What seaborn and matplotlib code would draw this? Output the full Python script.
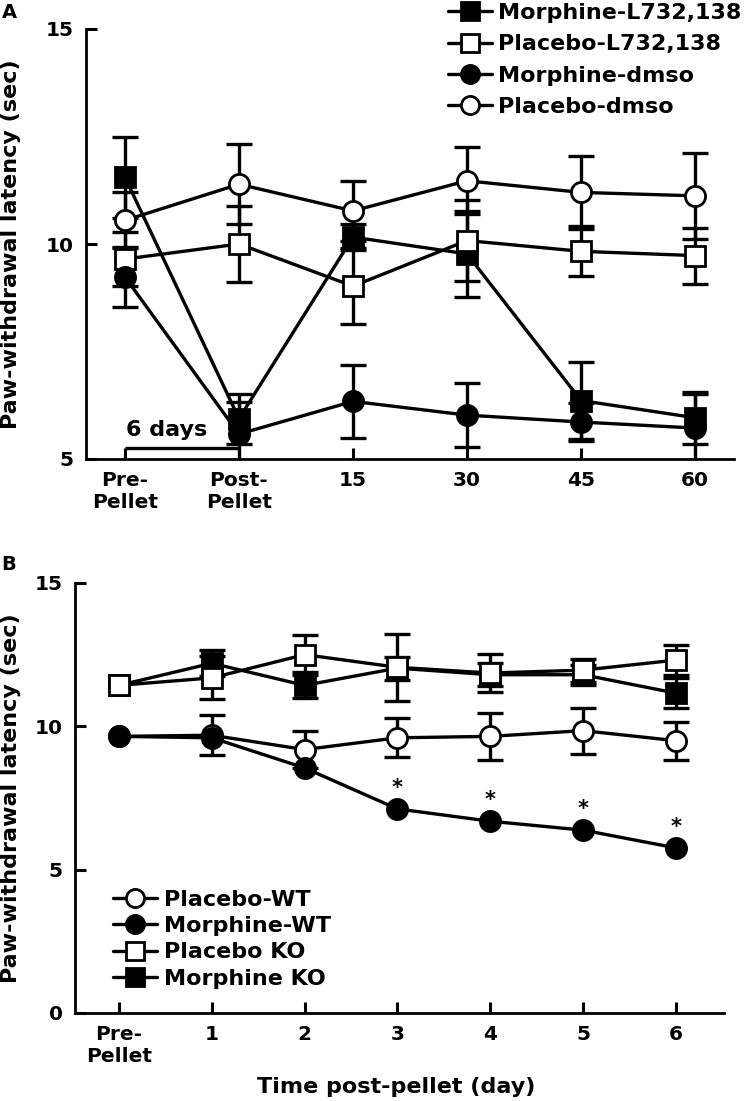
import numpy as np
import pandas as pd
import matplotlib
matplotlib.use("Agg")
import matplotlib.pyplot as plt
import seaborn as sns

# ---------------- data ----------------
labels_a = ["Pre-\nPellet", "Post-\nPellet", "15", "30", "45", "60"]
morph_l732 = [11.55, 5.94, 10.16, 9.77, 6.36, 5.96]
morph_l732_err = [0.95, 0.58, 0.30, 1.00, 0.90, 0.60]
plac_l732 = [9.65, 10.00, 9.02, 10.08, 9.83, 9.73]
plac_l732_err = [0.62, 0.88, 0.88, 0.95, 0.58, 0.65]
morph_dmso = [9.23, 5.58, 6.34, 6.02, 5.86, 5.72]
morph_dmso_err = [0.70, 0.75, 0.85, 0.75, 0.45, 0.80]
plac_dmso = [10.55, 11.39, 10.77, 11.47, 11.20, 11.12]
plac_dmso_err = [0.65, 0.93, 0.70, 0.78, 0.85, 1.00]

labels_b = ["Pre-\nPellet", "1", "2", "3", "4", "5", "6"]
plac_wt = [9.65, 9.69, 9.19, 9.60, 9.65, 9.85, 9.50]
plac_wt_err = [0, 0.70, 0.65, 0.68, 0.82, 0.80, 0.66]
morph_wt = [9.65, 9.60, 8.55, 7.12, 6.69, 6.38, 5.76]
morph_wt_err = [0, 0, 0, 0, 0, 0, 0]
plac_ko = [11.43, 11.69, 12.50, 12.06, 11.86, 11.96, 12.31]
plac_ko_err = [0, 0.75, 0.70, 1.17, 0.67, 0.40, 0.53]
morph_ko = [11.43, 12.20, 11.43, 12.03, 11.80, 11.80, 11.16]
morph_ko_err = [0, 0.45, 0.45, 0.40, 0.40, 0.35, 0.52]
signif_b = [False, False, False, True, True, True, True]

bar_days_label = "6 days"
bar_days_span = (0, 1)      # Pre-pellet -> Post-pellet
bar_days_level = 5.26

# ---------------- style ----------------
sns.set_style("ticks")
plt.rcParams["font.family"] = ["DejaVu Sans"]
plt.rcParams["font.weight"] = "bold"
plt.rcParams["axes.labelweight"] = "bold"
plt.rcParams["axes.linewidth"] = 2.0
plt.rcParams["text.color"] = "black"
plt.rcParams["axes.labelcolor"] = "black"
plt.rcParams["xtick.color"] = "black"
plt.rcParams["ytick.color"] = "black"

W, H = 746, 1101
fig = plt.figure(figsize=(W / 100, H / 100), dpi=100)
axA = fig.add_axes([86 / W, (H - 459) / H, 648 / W, 430 / H])
axB = fig.add_axes([75 / W, (H - 1013) / H, 649 / W, 430 / H])

MS = 14.5
LW = 2.4
MEW = 2.0


def draw(ax, ys, err, marker, filled, label):
    xs = np.arange(len(ys))
    ys = np.asarray(ys, float)
    e = np.asarray(err, float)
    m = e > 0
    if m.any():
        ax.errorbar(xs[m], ys[m], yerr=e[m], fmt="none", ecolor="black",
                    elinewidth=LW, capsize=9.5, capthick=LW, zorder=2)
    df = pd.DataFrame({"x": xs, "y": ys})
    sns.lineplot(data=df, x="x", y="y", ax=ax, color="black", lw=LW,
                 marker=marker, markersize=MS,
                 markerfacecolor="black" if filled else "white",
                 markeredgecolor="black", markeredgewidth=MEW,
                 label=label, legend=False, zorder=3, clip_on=False)


# ---------------- panel A ----------------
draw(axA, morph_l732, morph_l732_err, "s", True, "Morphine-L732,138")
draw(axA, plac_l732, plac_l732_err, "s", False, "Placebo-L732,138")
draw(axA, morph_dmso, morph_dmso_err, "o", True, "Morphine-dmso")
draw(axA, plac_dmso, plac_dmso_err, "o", False, "Placebo-dmso")

axA.set_xlim(-0.342, 5.342)
axA.set_ylim(5, 15)
axA.set_yticks([5, 10, 15])
axA.set_xticks(range(len(labels_a)))
axA.set_xticklabels(labels_a, linespacing=1.15)
axA.set_xlabel("")
axA.set_ylabel("Paw-withdrawal latency (sec)", fontsize=16)
axA.yaxis.label.set_verticalalignment("center")
axA.yaxis.set_label_coords(-0.1157, 0.5)

axA.plot(list(bar_days_span), [bar_days_level] * 2, color="black", lw=LW,
         solid_capstyle="butt")
axA.text(bar_days_span[0] + 0.01, bar_days_level + 0.41, bar_days_label,
         fontsize=16, ha="left", va="center")

hA, lA = axA.get_legend_handles_labels()
axA.legend(hA, lA, loc="upper left", bbox_to_anchor=(448 / W, 1 - 3 / H),
           bbox_transform=fig.transFigure, frameon=False, borderpad=0,
           borderaxespad=0, handlelength=2.0, handletextpad=0.25,
           labelspacing=0.51, fontsize=16, markerscale=0.9)

# ---------------- panel B ----------------
draw(axB, plac_wt, plac_wt_err, "o", False, "Placebo-WT")
draw(axB, morph_wt, morph_wt_err, "o", True, "Morphine-WT")
draw(axB, morph_ko, morph_ko_err, "s", True, "Morphine KO")
draw(axB, plac_ko, plac_ko_err, "s", False, "Placebo KO")

for i, (s, v) in enumerate(zip(signif_b, morph_wt)):
    if s:
        axB.annotate("*", xy=(i, v), xytext=(0, 15), textcoords="offset points",
                     ha="center", va="center", fontsize=15)

axB.set_xlim(-0.474, 6.52)
axB.set_ylim(0, 15)
axB.set_yticks([0, 5, 10, 15])
axB.set_xticks(range(len(labels_b)))
axB.set_xticklabels(labels_b, linespacing=1.15)
axB.set_xlabel("Time post-pellet (day)", fontsize=16)
axB.xaxis.label.set_verticalalignment("center")
axB.xaxis.set_label_coords(0.495, -0.172)
axB.set_ylabel("Paw-withdrawal latency (sec)", fontsize=16)
axB.yaxis.label.set_verticalalignment("center")
axB.yaxis.set_label_coords(-0.0986, 0.5)

hB, lB = axB.get_legend_handles_labels()
order = ["Placebo-WT", "Morphine-WT", "Placebo KO", "Morphine KO"]
hmap = dict(zip(lB, hB))
axB.legend([hmap[k] for k in order], order, loc="upper left",
           bbox_to_anchor=(113 / W, 1 - 890 / H),
           bbox_transform=fig.transFigure, frameon=False, borderpad=0,
           borderaxespad=0, handlelength=2.0, handletextpad=0.3,
           labelspacing=0.28, fontsize=16, markerscale=0.9)

for ax in (axA, axB):
    sns.despine(ax=ax)
    ax.tick_params(direction="in", length=8, width=2.2, labelsize=14.5,
                   pad=9, colors="black")
    for sp in ("left", "bottom"):
        ax.spines[sp].set_linewidth(2.0)
        ax.spines[sp].set_color("black")

fig.text(2 / W, 1 - 12 / H, "A", fontsize=14, ha="left", va="center")
fig.text(1 / W, 1 - 564 / H, "B", fontsize=14, ha="left", va="center")

fig.savefig("out.png", dpi=100)
